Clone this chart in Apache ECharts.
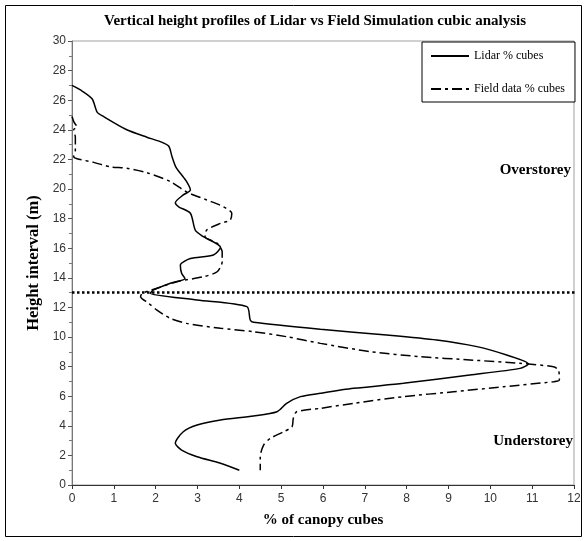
<!DOCTYPE html>
<html>
<head>
<meta charset="utf-8">
<script src="https://cdn.jsdelivr.net/npm/echarts@6/dist/echarts.min.js"></script>
<style>
html,body{margin:0;padding:0;background:#fff;}
#chart{width:585px;height:541px;}
</style>
</head>
<body>
<div id="chart"></div>
<script>
// ---- data (x = % of canopy cubes, y = height interval m) ----
const lidarPct = [0.0,0.2,0.48,0.6,0.75,1.31,1.79,2.11,2.31,2.39,2.48,2.59,2.74,2.83,2.66,2.47,2.55,2.83,2.95,3.14,3.55,3.38,2.83,2.59,2.62,2.70,2.35,1.95,1.87,2.99,4.18,4.26,4.34,5.94,7.52,8.72,9.68,10.39,10.91,10.71,9.51,7.92,6.73,5.94,5.46,5.13,4.9,4.34,3.55,2.99,2.66,2.47,2.62,2.99,3.55,4.0];
const lidarHeight = [27.0,26.7,26.1,25.2,24.9,24.0,23.5,23.2,22.9,22.2,21.5,21.06,20.5,19.93,19.6,19.07,18.8,18.36,17.2,16.78,16.06,15.54,15.3,14.86,14.3,13.96,13.63,13.18,12.95,12.5,12.05,11.15,10.99,10.52,10.14,9.80,9.35,8.78,8.18,7.88,7.43,6.87,6.53,6.2,5.97,5.52,4.95,4.66,4.39,4.05,3.6,2.82,2.36,1.91,1.47,1.0];

const fieldPct = [0.0,0.05,0.12,0.04,0.08,0.08,0.04,0.12,0.52,0.91,1.31,1.79,2.35,2.74,3.22,3.62,3.82,3.78,3.55,3.22,3.18,3.47,3.59,3.59,3.47,3.14,2.51,2.03,1.68,1.64,1.83,2.03,2.35,2.74,3.55,4.34,5.13,5.94,7.13,8.33,9.51,10.71,11.51,11.63,11.65,11.51,10.32,9.12,7.92,6.73,5.94,5.37,5.29,5.26,5.06,4.74,4.58,4.5,4.5];
const fieldHeight = [24.9,24.5,24.2,24.0,23.5,22.6,22.2,22.05,21.8,21.5,21.4,21.1,20.5,19.8,19.26,18.8,18.36,17.9,17.68,17.23,16.78,16.33,15.76,15.09,14.41,14.07,13.74,13.29,12.95,12.72,12.28,11.82,11.26,10.92,10.59,10.36,10.02,9.57,9.01,8.67,8.45,8.22,7.99,7.77,7.09,6.98,6.64,6.30,5.97,5.52,5.18,4.95,4.5,3.94,3.6,3.15,2.7,1.91,1.0];

const dividerHeight = 13;
const dividerSpan = [0, 12.1];

const seriesNames = ['Lidar % cubes', 'Field data % cubes'];
const chartTitle = 'Vertical height profiles of Lidar vs Field Simulation cubic analysis';
const xName = '% of canopy cubes';
const yName = 'Height interval (m)';
const zoneLabels = ['Overstorey', 'Understorey'];

const pair = (xs, ys) => xs.map((v, i) => [v, ys[i]]);

const serif = '"Liberation Serif", "Times New Roman", serif';
const sans = '"Liberation Sans", Arial, sans-serif';

const chart = echarts.init(document.getElementById('chart'), null, {renderer: 'canvas'});

const xBase = {type: 'value', min: 0, max: 12, interval: 1, gridIndex: 0};
const yBase = {type: 'value', min: 0, max: 30, interval: 2, gridIndex: 0};

const option = {
  backgroundColor: '#fff',
  animation: false,
  title: {
    text: chartTitle,
    left: 310, top: 9, textAlign: 'center',
    textStyle: {fontFamily: serif, fontWeight: 'bold', fontSize: 15, color: '#000'}
  },
  grid: {
    left: 72, right: 11, top: 41, bottom: 56,
    show: true, borderColor: '#a0a0a0', borderWidth: 1
  },
  legend: {
    data: seriesNames,
    orient: 'vertical',
    left: 422, top: 42,
    padding: [8, 10, 7, 8],
    itemGap: 21,
    itemWidth: 38, itemHeight: 14,
    borderColor: '#000', borderWidth: 1,
    backgroundColor: '#fff',
    itemStyle: {color: 'rgba(0,0,0,0)', borderWidth: 0, opacity: 0},
    textStyle: {fontFamily: serif, fontSize: 12, color: '#000'}
  },
  xAxis: [
    Object.assign({}, xBase, {
      name: xName, nameLocation: 'middle', nameGap: 28,
      nameTextStyle: {fontFamily: serif, fontWeight: 'bold', fontSize: 15, color: '#000'},
      axisLine: {show: true, lineStyle: {color: '#333', width: 1}},
      axisTick: {show: true, inside: false, length: 4, lineStyle: {color: '#333'}},
      axisLabel: {margin: 8, fontFamily: sans, fontSize: 12, color: '#333'},
      splitLine: {show: false}
    }),
    Object.assign({}, xBase, {
      axisLine: {show: false},
      axisTick: {show: true, inside: true, length: 4, lineStyle: {color: '#333'}},
      axisLabel: {show: false},
      splitLine: {show: false}
    })
  ],
  yAxis: [
    Object.assign({}, yBase, {
      name: yName, nameLocation: 'middle', nameGap: 29,
      nameTextStyle: {fontFamily: serif, fontWeight: 'bold', fontSize: 16.5, color: '#000'},
      axisLine: {show: true, lineStyle: {color: '#777', width: 1}},
      axisTick: {show: true, inside: false, length: 4, lineStyle: {color: '#555'}},
      axisLabel: {margin: 6, fontFamily: sans, fontSize: 12, color: '#333'},
      splitLine: {show: false}
    }),
    Object.assign({}, yBase, {
      axisLine: {show: false},
      axisTick: {show: true, inside: true, length: 4, lineStyle: {color: '#555'}},
      minorTick: {show: true, splitNumber: 2, length: 3, lineStyle: {color: '#777'}},
      axisLabel: {show: false},
      splitLine: {show: false}
    })
  ],
  series: [
    {
      name: seriesNames[0], type: 'line', xAxisIndex: 0, yAxisIndex: 0,
      data: pair(lidarPct, lidarHeight),
      symbol: 'none', smooth: 0.25,
      lineStyle: {color: '#000', width: 1.5, type: 'solid'},
      itemStyle: {color: '#000'}
    },
    {
      name: seriesNames[1], type: 'line', xAxisIndex: 0, yAxisIndex: 0,
      data: pair(fieldPct, fieldHeight),
      symbol: 'none', smooth: 0.25,
      lineStyle: {color: '#000', width: 1.5, type: [10, 4, 3, 4]},
      itemStyle: {color: '#000'}
    },
    {
      name: 'divider', type: 'line', xAxisIndex: 0, yAxisIndex: 0,
      data: dividerSpan.map(v => [v, dividerHeight]),
      symbol: 'none', clip: false, silent: true,
      lineStyle: {color: '#000', width: 2.5, type: [2.5, 2.5]}
    }
  ],
  graphic: [
    {type: 'rect', shape: {x: 5.5, y: 5.5, width: 576, height: 531}, style: {fill: null, stroke: '#000', lineWidth: 1}, silent: true, z: 100},
    {type: 'text', right: 14, top: 163, style: {text: zoneLabels[0], font: 'bold 15px ' + serif, fill: '#000'}},
    {type: 'text', right: 12, top: 434, style: {text: zoneLabels[1], font: 'bold 15px ' + serif, fill: '#000'}}
  ]
};
chart.setOption(option);
</script>
</body>
</html>
